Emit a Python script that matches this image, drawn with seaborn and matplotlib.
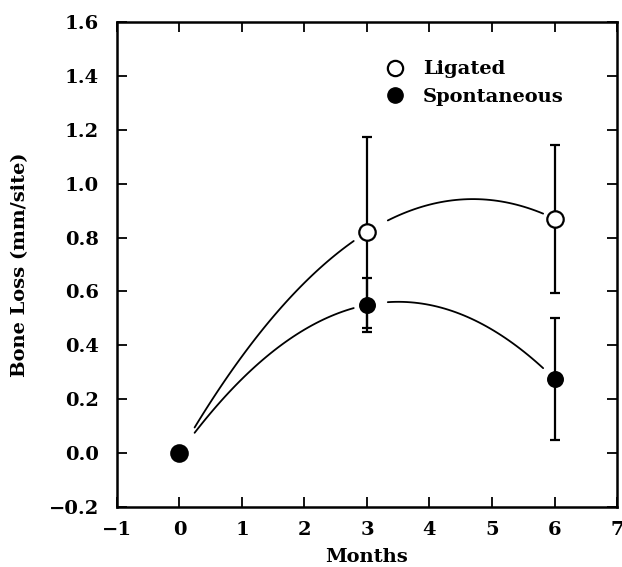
import numpy as np
import pandas as pd
import seaborn as sns
import matplotlib.pyplot as plt
from matplotlib.lines import Line2D

# Данные: потеря кости по месяцам
months = [0, 3, 6]
ligated = [0.0, 0.82, 0.87]
ligated_err = [0.0, 0.355, 0.275]
spontaneous = [0.0, 0.55, 0.275]
spontaneous_err = [0.0, 0.10, 0.225]

# участки кривых, которые видны (разрывы около маркеров)
ligated_keep = [(0.24, 2.83), (3.28, 5.82)]
spont_keep = [(0.24, 2.83), (3.28, 5.84)]

sns.set_style("ticks")
plt.rcParams['font.family'] = ['DejaVu Serif']
plt.rcParams['font.weight'] = 'bold'
for k in ['text.color', 'axes.labelcolor', 'xtick.color', 'ytick.color', 'axes.edgecolor']:
    plt.rcParams[k] = 'black'

df_lig = pd.DataFrame({'Months': months, 'Loss': ligated})
df_spo = pd.DataFrame({'Months': months, 'Loss': spontaneous})

fig, ax = plt.subplots(figsize=(6.22, 5.67), dpi=100)
fig.subplots_adjust(left=0.188, right=0.992, bottom=0.106, top=0.961)


def fit_curve(df, keep):
    # квадратичная аппроксимация средствами seaborn
    sns.regplot(data=df, x='Months', y='Loss', order=2, ci=None, scatter=False,
                truncate=True, color='black', line_kws={'lw': 1.3}, ax=ax)
    line = ax.lines[-1]
    xs, ys = line.get_data()
    xs = np.asarray(xs)
    mask = np.zeros(len(xs), dtype=bool)
    for lo, hi in keep:
        mask |= (xs >= lo) & (xs <= hi)
    line.set_data(xs, np.where(mask, ys, np.nan))


fit_curve(df_lig, ligated_keep)
fit_curve(df_spo, spont_keep)

# Планки погрешностей (без точки 0)
ax.errorbar(months[1:], ligated[1:], yerr=ligated_err[1:], fmt='none',
            ecolor='black', elinewidth=1.6, capsize=3.5, capthick=1.6, zorder=3)
ax.errorbar(months[1:], spontaneous[1:], yerr=spontaneous_err[1:], fmt='none',
            ecolor='black', elinewidth=1.6, capsize=3.5, capthick=1.6, zorder=3)

sns.scatterplot(data=df_lig, x='Months', y='Loss', marker='o', s=140,
                facecolor='white', edgecolor='black', linewidth=1.6, zorder=4, ax=ax)
sns.scatterplot(data=df_spo, x='Months', y='Loss', marker='o', s=125,
                color='black', edgecolor='black', linewidth=1.0, zorder=5, ax=ax)

ax.set_xlim(-1, 7)
ax.set_ylim(-0.2, 1.6)
ax.set_xticks(range(-1, 8))
ax.set_yticks(np.arange(-0.2, 1.61, 0.2))
ax.set_xticklabels(['\u22121', '0', '1', '2', '3', '4', '5', '6', '7'])
ax.set_yticklabels(['\u22120.2'] + [f'{v:.1f}' for v in np.arange(0, 1.61, 0.2)])
ax.tick_params(direction='in', length=7, width=1.3, top=True, right=True,
               labelsize=14)
ax.tick_params(axis='x', pad=10)
ax.tick_params(axis='y', pad=13)
for s in ax.spines.values():
    s.set_linewidth(1.8)
    s.set_visible(True)

ax.set_xlabel('Months', fontsize=14, fontweight='bold')
ax.set_ylabel('Bone Loss (mm/site)', fontsize=14, fontweight='bold')
ax.xaxis.set_label_coords(0.5, -0.085)
ax.yaxis.set_label_coords(-0.176, 0.5)

handles = [
    Line2D([], [], marker='o', ls='none', markersize=11, markerfacecolor='white',
           markeredgecolor='black', markeredgewidth=1.6, label='Ligated'),
    Line2D([], [], marker='o', ls='none', markersize=11, markerfacecolor='black',
           markeredgecolor='black', label='Spontaneous'),
]
ax.legend(handles=handles, loc='upper left', bbox_to_anchor=(0.482, 0.957),
          frameon=False, handletextpad=0.45, labelspacing=0.5,
          prop={'weight': 'bold', 'size': 14})

plt.savefig('out.png', dpi=100)
